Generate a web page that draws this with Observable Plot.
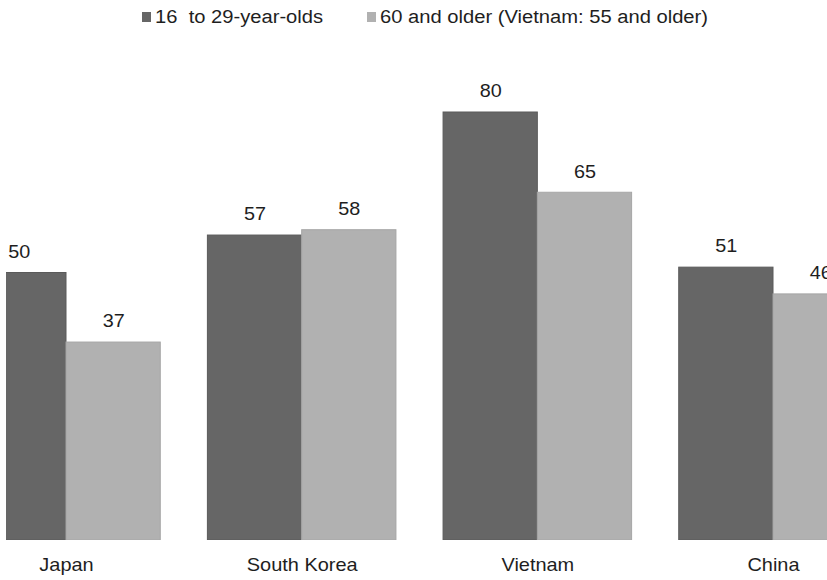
<!DOCTYPE html>
<html>
<head>
<meta charset="utf-8">
<script src="https://cdn.jsdelivr.net/npm/d3@7"></script>
<script src="https://cdn.jsdelivr.net/npm/@observablehq/plot@0.6"></script>
<style>
  html, body { margin: 0; padding: 0; background: #fff; }
  #wrap { position: relative; width: 827px; height: 580px; overflow: hidden; font-family: "Liberation Sans", Arial, sans-serif; }
  #legend { position: absolute; left: 0; top: 0; width: 827px; height: 34px; z-index: 2; }
  .item { position: absolute; top: 0; height: 34px; }
  .sw { position: absolute; top: 12px; width: 9px; height: 10px; }
  .lab { position: absolute; left: 13px; top: 7px; font-size: 18px; line-height: 20px; color: #1e1e1e; white-space: pre; transform: scaleX(1.12); transform-origin: 0 50%; }
</style>
</head>
<body>
<div id="wrap">
  <div id="legend"></div>
  <div id="chart"></div>
</div>
<script>
const countries = ["Japan", "South Korea", "Vietnam", "China"];
const young = [50, 57, 80, 51];
const older = [37, 58, 65, 46];
const seriesNames = ["16  to 29-year-olds", "60 and older (Vietnam: 55 and older)"];
const seriesColors = ["#666666", "#b1b1b1"];
const seriesStrokes = ["#5a5a5a", "#a6a6a6"];

const rows = [];
countries.forEach((c, i) => {
  rows.push({country: c, i, s: 0, series: seriesNames[0], value: young[i]});
  rows.push({country: c, i, s: 1, series: seriesNames[1], value: older[i]});
});
const half = 0.4;
const x1 = d => d.s === 0 ? d.i - half : d.i;
const x2 = d => d.s === 0 ? d.i : d.i + half;
const xc = d => d.s === 0 ? d.i - half / 2 : d.i + half / 2;

const plot = Plot.plot({
  width: 827,
  height: 580,
  marginTop: 0,
  marginBottom: 40,
  marginLeft: 6,
  marginRight: 0,
  style: {fontFamily: '"Liberation Sans", Arial, sans-serif', background: "white"},
  x: {type: "linear", domain: [0, 3], range: [66, 773], axis: null},
  y: {domain: [0, 80], range: [540, 112], axis: null},
  color: {domain: seriesNames, range: seriesColors},
  marks: [
    Plot.rect(rows, {x1, x2, y1: 0, y2: "value", fill: "series",
      stroke: d => seriesStrokes[d.s], strokeWidth: 1, clip: "frame"}),
    Plot.text(rows, {x: xc, y: "value", text: d => String(d.value), dy: -21,
      fontSize: 18, fill: "#1e1e1e", textAnchor: "middle", className: "vlab"}),
    Plot.text(countries, {x: (d, i) => i, y: 0, text: d => d, dy: 25,
      fontSize: 17.5, fill: "#1e1e1e", textAnchor: "middle", className: "clab"})
  ]
});

const isNum = v => v != null && /^-?[\d.]+$/.test(v.trim());
plot.querySelectorAll("text").forEach(t => {
  const k = t.closest(".clab") ? 1.14 : 1.1;
  let tr = t.getAttribute("transform") || "";
  const x = t.getAttribute("x");
  if (isNum(x)) {
    tr += ` translate(${x},0)`;
    t.removeAttribute("x");
  }
  t.setAttribute("transform", (tr + ` scale(${k},1)`).trim());
});
document.getElementById("chart").appendChild(plot);

const legend = document.getElementById("legend");
const legendX = [142, 367];
seriesNames.forEach((name, k) => {
  const item = document.createElement("div");
  item.className = "item";
  item.style.left = legendX[k] + "px";
  const sw = document.createElement("div");
  sw.className = "sw";
  sw.style.background = seriesColors[k];
  sw.style.left = "0px";
  const lab = document.createElement("div");
  lab.className = "lab";
  lab.textContent = name;
  item.appendChild(sw);
  item.appendChild(lab);
  legend.appendChild(item);
});
</script>
</body>
</html>
